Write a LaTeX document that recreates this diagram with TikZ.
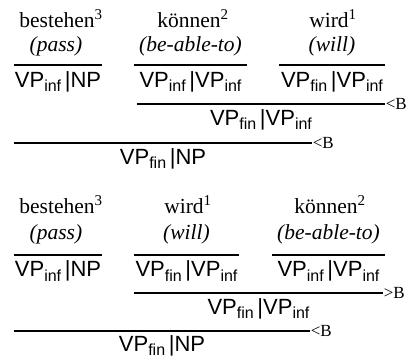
\documentclass[tikz,border=0pt]{standalone}
\usepackage{fontspec}
\setmainfont{Liberation Serif}
\setsansfont{Liberation Sans}
\newcommand\sbs[1]{\raisebox{-4.5pt}{\fontsize{16}{16}\selectfont #1}}
\newcommand\supx[1]{\rlap{\textsuperscript{#1}}}
\begin{document}
\begin{tikzpicture}[x=1pt,y=-1pt,
  cat/.style={font=\fontsize{22}{26}\selectfont\sffamily, anchor=base, inner sep=0pt},
  word/.style={font=\fontsize{21.5}{25}\selectfont, anchor=base, inner sep=0pt},
  gloss/.style={font=\fontsize{21.5}{25}\selectfont\itshape, anchor=base, inner sep=0pt},
  rulex/.style={line width=1.8pt},
  comb/.style={font=\fontsize{17}{20}\selectfont, anchor=west, inner sep=0.6pt}]
\useasboundingbox (0,0) rectangle (411,358);
% ---------------- top derivation ----------------
\node[word]  (tw1) at (57,27.3) {bestehen\supx{3}};
\node[gloss] (tg1) at (56,52) {(pass)};
\node[word]  (tw2) at (189,27.3) {können\supx{2}};
\node[gloss] (tg2) at (190.5,52) {(be-able-to)};
\node[word]  (tw3) at (329,27.3) {wird\supx{1}};
\node[gloss] (tg3) at (332,52) {(will)};
\coordinate (ta1) at (14,65);  \coordinate (tb1) at (102,65);
\coordinate (ta2) at (134,65); \coordinate (tb2) at (247,65);
\coordinate (ta3) at (279,65); \coordinate (tb3) at (385,65);
\draw[rulex] (ta1) -- (tb1);
\draw[rulex] (ta2) -- (tb2);
\draw[rulex] (ta3) -- (tb3);
\node[cat] (tc1) at (58,87.5) {VP\sbs{inf}\,|NP};
\node[cat] (tc2) at (190.5,87.5) {VP\sbs{inf}\,|VP\sbs{inf}};
\node[cat] (tc3) at (332,87.5) {VP\sbs{fin}\,|VP\sbs{inf}};
\coordinate (tl2a) at (137,104);
\node[comb] (tk2) at (385,104) {<B};
\draw[rulex] (tl2a) -- (tk2.west);
\node[cat] (tc4) at (261,125) {VP\sbs{fin}\,|VP\sbs{inf}};
\coordinate (tl3a) at (14,143);
\node[comb] (tk3) at (312,143) {<B};
\draw[rulex] (tl3a) -- (tk3.west);
\node[cat] (tc5) at (163,164) {VP\sbs{fin}\,|NP};
% ---------------- bottom derivation ----------------
\node[word]  (bw1) at (57,213) {bestehen\supx{3}};
\node[gloss] (bg1) at (56,239.5) {(pass)};
\node[word]  (bw2) at (184,213) {wird\supx{1}};
\node[gloss] (bg2) at (186.5,239.5) {(will)};
\node[word]  (bw3) at (326,213) {können\supx{2}};
\node[gloss] (bg3) at (328.5,239.5) {(be-able-to)};
\coordinate (ba1) at (14,255);  \coordinate (bb1) at (102,255);
\coordinate (ba2) at (134,255); \coordinate (bb2) at (239,255);
\coordinate (ba3) at (272,255); \coordinate (bb3) at (385,255);
\draw[rulex] (ba1) -- (bb1);
\draw[rulex] (ba2) -- (bb2);
\draw[rulex] (ba3) -- (bb3);
\node[cat] (bc1) at (58,276.7) {VP\sbs{inf}\,|NP};
\node[cat] (bc2) at (186.5,276.7) {VP\sbs{fin}\,|VP\sbs{inf}};
\node[cat] (bc3) at (328.5,276.7) {VP\sbs{inf}\,|VP\sbs{inf}};
\coordinate (bl2a) at (134,293);
\node[comb] (bk2) at (383,293) {>B};
\draw[rulex] (bl2a) -- (bk2.west);
\node[cat] (bc4) at (258.5,314) {VP\sbs{fin}\,|VP\sbs{inf}};
\coordinate (bl3a) at (14,331);
\node[comb] (bk3) at (310,331) {<B};
\draw[rulex] (bl3a) -- (bk3.west);
\node[cat] (bc5) at (162,351) {VP\sbs{fin}\,|NP};
\end{tikzpicture}
\end{document}
